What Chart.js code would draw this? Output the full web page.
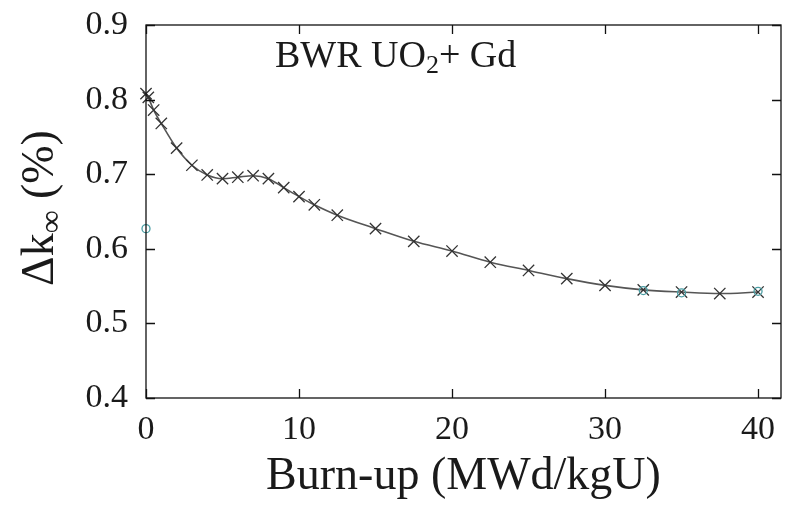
<!DOCTYPE html>
<html>
<head>
<meta charset="utf-8">
<script src="https://cdn.jsdelivr.net/npm/chart.js@4/dist/chart.umd.min.js"></script>
<style>
  html, body { margin: 0; padding: 0; background: #fff; }
  #wrap { width: 796px; height: 508px; }
</style>
</head>
<body>
<div id="wrap"><canvas id="chart" width="796" height="508"></canvas></div>
<script>
// burn-up points (MWd/kgU) and reactivity difference (%)
const burnup = [0, 0.15, 0.5, 1, 2, 3, 4, 5, 6, 7, 8, 9, 10, 11, 12.5, 15, 17.5, 20, 22.5, 25, 27.5, 30, 32.5, 35, 37.5, 40];
const deltaK = [0.808, 0.803, 0.786, 0.768, 0.735, 0.712, 0.699, 0.694, 0.696, 0.698, 0.694, 0.682, 0.670, 0.659, 0.645, 0.627, 0.610, 0.597, 0.582, 0.571, 0.560, 0.551, 0.545, 0.542, 0.540, 0.542];
// faint teal markers behind the main curve
const tealX = [0, 32.5, 35, 40];
const tealY = [0.627, 0.544, 0.541, 0.543];

const xTicks = [0, 10, 20, 30, 40];
const yTicks = [0.4, 0.5, 0.6, 0.7, 0.8, 0.9];

const serif = "'Liberation Serif', 'DejaVu Serif', serif";
const ink = '#1a1a1a';

// box, inward ticks on all four sides, y title and the label
const framePlugin = {
    id: 'frame',
    afterDraw(chart) {
        const ctx = chart.ctx;
        const a = chart.chartArea;
        const xs = chart.scales.x, ys = chart.scales.y;
        const len = 9;
        ctx.save();
        ctx.strokeStyle = '#111';
        ctx.lineWidth = 1.3;
        ctx.strokeRect(a.left, a.top, a.right - a.left, a.bottom - a.top);
        ctx.beginPath();
        xTicks.forEach(v => {
            const px = Math.round(xs.getPixelForValue(v)) + 0.5;
            ctx.moveTo(px, a.bottom); ctx.lineTo(px, a.bottom - len);
            ctx.moveTo(px, a.top); ctx.lineTo(px, a.top + len);
        });
        yTicks.forEach(v => {
            const py = Math.round(ys.getPixelForValue(v)) + 0.5;
            ctx.moveTo(a.left, py); ctx.lineTo(a.left + len, py);
            ctx.moveTo(a.right, py); ctx.lineTo(a.right - len, py);
        });
        ctx.stroke();

        // label inside the plot
        ctx.fillStyle = ink;
        ctx.textBaseline = 'alphabetic';
        ctx.textAlign = 'left';
        let x = 275;
        const base = 67;
        ctx.font = '38px ' + serif;
        ctx.fillText('BWR UO', x, base);
        x += ctx.measureText('BWR UO').width;
        ctx.font = '26px ' + serif;
        ctx.fillText('2', x, base + 6);
        x += ctx.measureText('2').width;
        ctx.font = '38px ' + serif;
        ctx.fillText('+ Gd', x, base);

        // y axis title with subscript infinity
        ctx.translate(53, 208);
        ctx.rotate(-Math.PI / 2);
        ctx.font = '46px ' + serif;
        const w1 = ctx.measureText('\u0394k').width;
        const w3 = ctx.measureText(' (%)').width;
        ctx.font = '32px ' + serif;
        const w2 = ctx.measureText('\u221E').width;
        let tx = -(w1 + w2 + w3) / 2;
        ctx.font = '46px ' + serif;
        ctx.fillText('\u0394k', tx, 0);
        tx += w1;
        ctx.font = '32px ' + serif;
        ctx.fillText('\u221E', tx, 8);
        tx += w2;
        ctx.font = '46px ' + serif;
        ctx.fillText(' (%)', tx, 0);
        ctx.restore();
    }
};

new Chart(document.getElementById('chart'), {
    type: 'scatter',
    data: {
        datasets: [
            {
                data: tealX.map((v, i) => ({ x: v, y: tealY[i] })),
                showLine: false,
                pointStyle: 'circle',
                pointRadius: 4,
                pointBorderColor: '#4a9ea4',
                pointBackgroundColor: 'rgba(0,0,0,0)',
                pointBorderWidth: 1.3,
                clip: false
            },
            {
                data: burnup.map((v, i) => ({ x: v, y: deltaK[i] })),
                showLine: true,
                borderColor: '#555',
                borderWidth: 1.6,
                cubicInterpolationMode: 'monotone',
                pointStyle: 'crossRot',
                pointRadius: 8,
                pointBorderColor: '#333',
                pointBorderWidth: 1.3,
                clip: false
            }
        ]
    },
    options: {
        responsive: false,
        animation: false,
        events: [],
        layout: { padding: { top: 25, right: 15, left: 0, bottom: 0 } },
        plugins: { legend: { display: false }, tooltip: { enabled: false } },
        scales: {
            x: {
                type: 'linear',
                min: 0, max: 41.5,
                afterBuildTicks: s => { s.ticks = xTicks.map(v => ({ value: v })); },
                afterFit: s => { s.height = 110; s.paddingLeft = 0; s.paddingRight = 0; },
                grid: { display: false, drawTicks: false },
                border: { display: false },
                ticks: { color: ink, font: { family: serif, size: 34 }, padding: 12, maxRotation: 0 },
                title: {
                    display: true,
                    text: 'Burn-up (MWd/kgU)',
                    color: ink,
                    font: { family: serif, size: 46 },
                    padding: { top: 0, bottom: 3 }
                }
            },
            y: {
                type: 'linear',
                min: 0.4, max: 0.9,
                afterBuildTicks: s => { s.ticks = yTicks.map(v => ({ value: v })); },
                afterFit: s => { s.width = 146; s.paddingTop = 0; s.paddingBottom = 0; },
                grid: { display: false, drawTicks: false },
                border: { display: false },
                ticks: { color: ink, font: { family: serif, size: 34 }, padding: 18, callback: v => v.toFixed(1) }
            }
        }
    },
    plugins: [framePlugin]
});
</script>
</body>
</html>
